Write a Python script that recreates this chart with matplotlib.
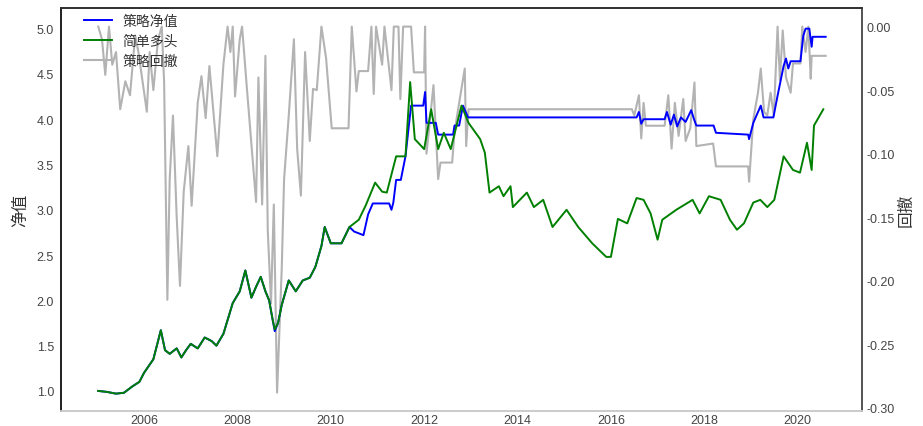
import matplotlib
matplotlib.use("Agg")
import matplotlib.pyplot as plt

plt.rcParams['font.family'] = ['Liberation Sans', 'Noto Sans CJK SC', 'DejaVu Sans']
plt.rcParams['axes.unicode_minus'] = False

# 简单多头 (buy & hold) as (decimal year, value)
hold_t = [2005.02, 2005.2, 2005.4, 2005.57, 2005.75, 2005.9, 2006.0, 2006.2, 2006.36, 2006.45,
          2006.55, 2006.7, 2006.8, 2006.9, 2007.0, 2007.15, 2007.3, 2007.45, 2007.55, 2007.7,
          2007.9, 2008.05, 2008.17, 2008.3, 2008.4, 2008.5, 2008.6, 2008.68, 2008.75, 2008.8,
          2008.87, 2008.95, 2009.1, 2009.25, 2009.4, 2009.55, 2009.67, 2009.8, 2009.87, 2010.0,
          2010.23, 2010.4, 2010.6, 2010.75, 2010.95, 2011.1, 2011.2, 2011.4, 2011.6, 2011.7,
          2011.8, 2012.0, 2012.15, 2012.3, 2012.42, 2012.57, 2012.8, 2012.95, 2013.2, 2013.3,
          2013.4, 2013.6, 2013.7, 2013.85, 2013.9, 2014.2, 2014.35, 2014.55, 2014.75, 2015.05,
          2015.3, 2015.6, 2015.9, 2016.0, 2016.15, 2016.35, 2016.55, 2016.7, 2016.85, 2017.0,
          2017.1, 2017.4, 2017.75, 2017.9, 2018.1, 2018.35, 2018.55, 2018.7, 2018.85, 2019.05,
          2019.2, 2019.35, 2019.5, 2019.7, 2019.9, 2020.05, 2020.2, 2020.3, 2020.35, 2020.55]
hold_v = [1.00, 0.99, 0.97, 0.98, 1.05, 1.10, 1.20, 1.35, 1.67, 1.45,
          1.41, 1.47, 1.37, 1.45, 1.52, 1.47, 1.59, 1.55, 1.50, 1.63,
          1.97, 2.10, 2.33, 2.03, 2.15, 2.26, 2.10, 2.00, 1.80, 1.68,
          1.75, 1.95, 2.22, 2.10, 2.22, 2.25, 2.37, 2.60, 2.81, 2.63,
          2.63, 2.81, 2.89, 3.05, 3.30, 3.20, 3.19, 3.59, 3.59, 4.41,
          3.78, 3.67, 4.11, 3.67, 3.85, 3.67, 4.15, 3.96, 3.78, 3.63,
          3.19, 3.26, 3.15, 3.26, 3.03, 3.19, 3.03, 3.11, 2.81, 3.00,
          2.81, 2.63, 2.48, 2.48, 2.90, 2.85, 3.13, 3.11, 2.96, 2.67,
          2.89, 3.00, 3.11, 2.96, 3.15, 3.11, 2.89, 2.78, 2.85, 3.08,
          3.11, 3.03, 3.11, 3.59, 3.44, 3.41, 3.74, 3.44, 3.93, 4.11]

# 策略净值 (strategy NAV)
nav_t = [2005.02, 2005.2, 2005.4, 2005.57, 2005.75, 2005.9, 2006.0, 2006.2, 2006.36, 2006.45,
         2006.55, 2006.7, 2006.8, 2006.9, 2007.0, 2007.15, 2007.3, 2007.45, 2007.55, 2007.7,
         2007.9, 2008.05, 2008.17, 2008.3, 2008.4, 2008.5, 2008.6, 2008.68, 2008.75, 2008.8,
         2008.87, 2008.95, 2009.1, 2009.25, 2009.4, 2009.55, 2009.67, 2009.8, 2009.87, 2010.0,
         2010.23, 2010.4, 2010.5, 2010.7, 2010.8, 2010.9, 2011.25, 2011.3, 2011.34, 2011.4,
         2011.5, 2011.6, 2011.72, 2011.98, 2012.02, 2012.05, 2012.25, 2012.3, 2012.62, 2012.65,
         2012.75, 2012.83, 2012.94, 2016.55, 2016.6, 2016.65, 2016.7, 2017.15, 2017.2, 2017.28,
         2017.35, 2017.42, 2017.5, 2017.6, 2017.72, 2017.78, 2017.83, 2018.2, 2018.25, 2018.94,
         2018.96, 2019.05, 2019.21, 2019.27, 2019.48, 2019.57, 2019.7, 2019.75, 2019.8, 2019.85,
         2020.06, 2020.12, 2020.17, 2020.25, 2020.3, 2020.32, 2020.6]
nav_v = [1.00, 0.99, 0.97, 0.98, 1.05, 1.10, 1.20, 1.35, 1.67, 1.45,
         1.41, 1.47, 1.37, 1.45, 1.52, 1.47, 1.59, 1.55, 1.50, 1.63,
         1.97, 2.10, 2.33, 2.03, 2.15, 2.26, 2.10, 2.00, 1.80, 1.66,
         1.75, 1.95, 2.22, 2.10, 2.22, 2.25, 2.37, 2.60, 2.81, 2.63,
         2.63, 2.81, 2.76, 2.72, 2.95, 3.07, 3.07, 3.00, 3.08, 3.33,
         3.33, 3.59, 4.15, 4.15, 4.30, 3.96, 3.96, 3.83, 3.83, 3.93,
         3.93, 4.15, 4.02, 4.02, 4.08, 3.95, 4.00, 4.00, 4.08, 3.94,
         4.05, 3.92, 4.02, 3.97, 4.10, 4.00, 3.93, 3.93, 3.85, 3.83,
         3.78, 3.96, 4.15, 4.02, 4.02, 4.26, 4.59, 4.67, 4.56, 4.64,
         4.64, 4.92, 5.00, 5.00, 4.80, 4.91, 4.91]

# 策略回撤 (drawdown, right axis)
dd_t = [2005.02, 2005.1, 2005.17, 2005.25, 2005.32, 2005.4, 2005.49, 2005.6, 2005.7, 2005.81,
        2005.88, 2006.06, 2006.12, 2006.2, 2006.3, 2006.38, 2006.43, 2006.47, 2006.5, 2006.55,
        2006.62, 2006.7, 2006.77, 2006.85, 2006.95, 2007.02, 2007.15, 2007.23, 2007.32, 2007.4,
        2007.57, 2007.7, 2007.79, 2007.85, 2007.9, 2007.95, 2008.05, 2008.1, 2008.2, 2008.4,
        2008.45, 2008.53, 2008.6, 2008.65, 2008.72, 2008.78, 2008.85, 2008.95, 2009.0, 2009.1,
        2009.21, 2009.28, 2009.36, 2009.45, 2009.55, 2009.62, 2009.7, 2009.8, 2009.9, 2010.02,
        2010.38, 2010.45, 2010.55, 2010.6, 2010.8, 2010.87, 2010.92, 2010.97, 2011.1, 2011.15,
        2011.3, 2011.35, 2011.45, 2011.49, 2011.55, 2011.72, 2011.78, 2012.0, 2012.02, 2012.05,
        2012.2, 2012.3, 2012.35, 2012.6, 2012.65, 2012.75, 2012.87, 2012.9, 2012.95, 2016.45,
        2016.5, 2016.6, 2016.65, 2016.7, 2016.75, 2017.15, 2017.23, 2017.3, 2017.37, 2017.45,
        2017.55, 2017.6, 2017.7, 2017.79, 2017.83, 2018.19, 2018.25, 2018.94, 2018.96, 2019.05,
        2019.15, 2019.21, 2019.28, 2019.35, 2019.42, 2019.49, 2019.57, 2019.62, 2019.68, 2019.75,
        2019.85, 2019.9, 2020.06, 2020.1, 2020.17, 2020.23, 2020.28, 2020.3, 2020.6]
dd_v = [0.0, -0.01, -0.038, 0.0, -0.03, -0.02, -0.065, -0.043, -0.054, -0.007,
        -0.02, -0.067, -0.02, -0.05, -0.01, 0.0, -0.043, -0.14, -0.215, -0.12,
        -0.07, -0.15, -0.204, -0.13, -0.094, -0.141, -0.06, -0.039, -0.072, -0.031,
        -0.102, -0.03, 0.0, -0.02, 0.0, -0.055, -0.01, 0.0, -0.047, -0.138,
        -0.04, -0.14, -0.023, -0.16, -0.218, -0.14, -0.288, -0.19, -0.12, -0.07,
        -0.01, -0.096, -0.133, -0.02, -0.09, -0.049, -0.05, 0.0, -0.025, -0.08,
        -0.08, 0.0, -0.051, -0.035, -0.035, 0.0, -0.053, 0.0, -0.03, 0.0,
        -0.05, 0.0, 0.0, -0.057, 0.0, 0.0, -0.036, -0.036, 0.0, -0.10,
        -0.046, -0.12, -0.107, -0.107, -0.083, -0.06, -0.033, -0.094, -0.065, -0.065,
        -0.07, -0.054, -0.088, -0.06, -0.078, -0.078, -0.054, -0.096, -0.06, -0.086,
        -0.057, -0.09, -0.08, -0.044, -0.094, -0.092, -0.11, -0.11, -0.122, -0.073,
        -0.052, -0.033, -0.067, -0.07, -0.052, -0.07, 0.0, -0.042, -0.003, -0.04,
        -0.052, -0.029, -0.029, 0.0, -0.02, 0.0, -0.041, -0.023, -0.023]

years = [2006, 2008, 2010, 2012, 2014, 2016, 2018, 2020]

fig = plt.figure(figsize=(9.23, 4.27), dpi=100)
ax1 = fig.add_axes([0.066, 0.035, 0.868, 0.945])
ax2 = ax1.twinx()
ax1.set_zorder(ax2.get_zorder() + 1)
ax1.patch.set_visible(False)

l1, = ax1.plot(nav_t, nav_v, color='blue', lw=1.4, label='策略净值')
l2, = ax1.plot(hold_t, hold_v, color='green', lw=1.4, label='简单多头')
l3, = ax2.plot(dd_t, dd_v, color='#b3b3b3', lw=1.5, label='策略回撤')

ax1.set_xlim(2004.22, 2021.38)
ax1.set_ylim(0.778, 5.233)
ax2.set_ylim(-0.3025, 0.015)
ax1.set_xticks(years)
ax1.set_xticklabels([str(y) for y in years])
ax1.set_yticks([1.0, 1.5, 2.0, 2.5, 3.0, 3.5, 4.0, 4.5, 5.0])
ax2.set_yticks([0.0, -0.05, -0.10, -0.15, -0.20, -0.25, -0.30])
ax2.set_yticklabels(['0.00', '-0.05', '-0.10', '-0.15', '-0.20', '-0.25', '-0.30'])

ax1.tick_params(axis='both', length=0, labelsize=9, labelcolor='#444444')
ax1.tick_params(axis='y', pad=5)
ax1.tick_params(axis='x', pad=2)
ax2.tick_params(axis='y', length=0, labelsize=9, labelcolor='#444444', pad=3)

ax1.set_ylabel('净值', fontsize=12, color='#333333', labelpad=6)
ax2.set_ylabel('回撤', fontsize=12, color='#333333', labelpad=3)

for ax in (ax1, ax2):
    ax.spines['left'].set_color('#222222')
    ax.spines['top'].set_color('#333333')
    ax.spines['right'].set_color('#555555')
    ax.spines['bottom'].set_color('#cccccc')
    for s in ax.spines.values():
        s.set_linewidth(1.3)

leg = ax1.legend(handles=[l1, l2, l3], loc='upper left', frameon=False, fontsize=10,
                 bbox_to_anchor=(0.013, 1.015), labelspacing=0.42)
for t in leg.get_texts():
    t.set_color('#333333')

fig.savefig('out.png', dpi=100)
